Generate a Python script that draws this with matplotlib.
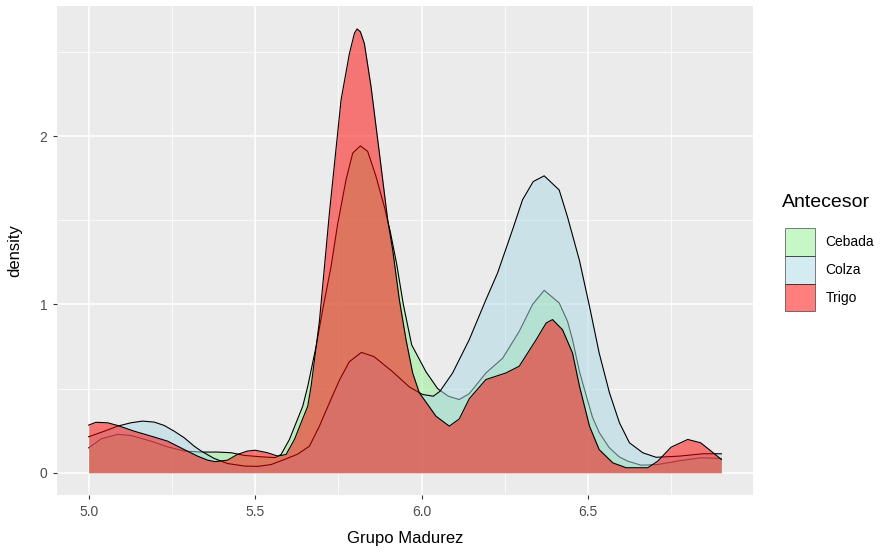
import matplotlib
matplotlib.use("Agg")
import matplotlib.pyplot as plt
from matplotlib.patches import Patch

plt.rcParams['font.family'] = ['Liberation Sans', 'DejaVu Sans']

# density curves (x = Grupo Madurez, y = density)
cebada_x = [5.0, 5.038, 5.087, 5.127, 5.187, 5.237, 5.287, 5.338, 5.388, 5.428,
            5.468, 5.518, 5.56, 5.578, 5.603, 5.623, 5.643, 5.658, 5.683, 5.703,
            5.728, 5.748, 5.773, 5.793, 5.816, 5.838, 5.863, 5.888, 5.906, 5.925,
            5.945, 5.97, 6.013, 6.048, 6.08, 6.113, 6.143, 6.193, 6.243, 6.293,
            6.333, 6.368, 6.413, 6.438, 6.453, 6.474, 6.494, 6.513, 6.533, 6.563,
            6.593, 6.619, 6.659, 6.709, 6.779, 6.839, 6.9]
cebada_y = [0.148, 0.202, 0.228, 0.222, 0.188, 0.154, 0.129, 0.123, 0.123, 0.119,
            0.103, 0.095, 0.09, 0.109, 0.198, 0.297, 0.396, 0.514, 0.75, 0.97,
            1.226, 1.48, 1.741, 1.899, 1.942, 1.909, 1.76, 1.58, 1.43, 1.24,
            1.0, 0.76, 0.60, 0.50, 0.455, 0.435, 0.47, 0.593, 0.68, 0.84,
            1.0, 1.084, 1.009, 0.90, 0.791, 0.60, 0.46, 0.33, 0.24, 0.15,
            0.095, 0.069, 0.045, 0.049, 0.073, 0.089, 0.085]

colza_x = [5.0, 5.047, 5.087, 5.127, 5.162, 5.197, 5.227, 5.257, 5.287, 5.317,
           5.338, 5.377, 5.417, 5.468, 5.508, 5.548, 5.588, 5.627, 5.663, 5.693,
           5.723, 5.753, 5.783, 5.819, 5.857, 5.913, 5.963, 6.003, 6.035, 6.055,
           6.093, 6.143, 6.193, 6.228, 6.273, 6.303, 6.335, 6.368, 6.413, 6.438,
           6.474, 6.504, 6.533, 6.564, 6.594, 6.624, 6.664, 6.704, 6.774, 6.845, 6.9]
colza_y = [0.214, 0.247, 0.277, 0.297, 0.307, 0.301, 0.281, 0.247, 0.208, 0.158,
           0.129, 0.085, 0.055, 0.04, 0.038, 0.049, 0.079, 0.11, 0.158, 0.277,
           0.415, 0.55, 0.66, 0.715, 0.69, 0.60, 0.51, 0.465, 0.455, 0.484,
           0.593, 0.791, 1.028, 1.187, 1.444, 1.622, 1.73, 1.764, 1.68, 1.52,
           1.26, 0.989, 0.712, 0.475, 0.297, 0.178, 0.119, 0.092, 0.099, 0.113, 0.113]

trigo_x = [5.0, 5.022, 5.057, 5.087, 5.137, 5.187, 5.237, 5.287, 5.327, 5.357,
           5.38, 5.417, 5.447, 5.477, 5.5, 5.537, 5.568, 5.593, 5.618, 5.638,
           5.658, 5.668, 5.693, 5.723, 5.758, 5.783, 5.798, 5.806, 5.816, 5.828,
           5.848, 5.873, 5.898, 5.913, 5.933, 5.953, 5.973, 5.993, 6.013, 6.043,
           6.083, 6.113, 6.143, 6.193, 6.253, 6.293, 6.344, 6.374, 6.393, 6.423,
           6.453, 6.474, 6.504, 6.533, 6.574, 6.614, 6.679, 6.709, 6.749, 6.799,
           6.838, 6.869, 6.9]
trigo_y = [0.283, 0.30, 0.297, 0.281, 0.247, 0.218, 0.188, 0.138, 0.099, 0.075,
           0.066, 0.075, 0.109, 0.129, 0.134, 0.119, 0.099, 0.109, 0.198, 0.297,
           0.396, 0.514, 0.90, 1.543, 2.215, 2.49, 2.61, 2.637, 2.62, 2.55,
           2.294, 1.90, 1.503, 1.325, 1.028, 0.791, 0.593, 0.475, 0.42, 0.336,
           0.277, 0.32, 0.44, 0.554, 0.593, 0.633, 0.791, 0.89, 0.91, 0.85,
           0.712, 0.514, 0.277, 0.138, 0.059, 0.03, 0.03, 0.069, 0.152, 0.198,
           0.178, 0.129, 0.079]

groups = ["Cebada", "Colza", "Trigo"]
fills = ["lightgreen", "lightblue", "red"]
series = [(cebada_x, cebada_y), (colza_x, colza_y), (trigo_x, trigo_y)]

fig = plt.figure(figsize=(8.88, 5.52), dpi=100)
ax = fig.add_axes([57/888, 1 - 495/552, (753 - 57)/888, (495 - 6)/552])
ax.set_facecolor("#EBEBEB")
for s in ax.spines.values():
    s.set_visible(False)

ax.set_xlim(4.905, 6.995)
ax.set_ylim(-0.132, 2.773)
ax.set_xticks([5.0, 5.5, 6.0, 6.5])
ax.set_xticklabels(["5.0", "5.5", "6.0", "6.5"])
ax.set_yticks([0, 1, 2])
ax.set_xticks([5.25, 5.75, 6.25, 6.75], minor=True)
ax.set_yticks([0.5, 1.5, 2.5], minor=True)
ax.grid(which="major", color="white", lw=1.1)
ax.grid(which="minor", color="white", lw=0.55)
ax.set_axisbelow(True)
ax.tick_params(which="major", length=3, width=0.8, color="#333333",
               labelcolor="#4D4D4D", labelsize=10, pad=4)
ax.tick_params(which="minor", length=0)

for i, ((xs, ys), c) in enumerate(zip(series, fills)):
    ax.fill_between(xs, 0, ys, color=c, alpha=0.5, lw=0, zorder=2 + 2 * i)
    ax.plot(xs, ys, color="black", lw=0.8, zorder=3 + 2 * i)

ax.set_xlabel("Grupo Madurez", fontsize=12, color="black", labelpad=9)
ax.set_ylabel("density", fontsize=12, color="black", labelpad=12)

# legend: title drawn separately so the gap above the keys matches ggplot
handles = [Patch(facecolor=c, edgecolor="black", lw=0.7, alpha=0.5) for c in fills]
for h in handles:
    h.set_edgecolor((0, 0, 0, 1))
leg = fig.legend(handles, groups, loc="upper left",
                 bbox_to_anchor=(785/888, 1 - 228/552), frameon=False,
                 fontsize=10, handlelength=2.16,
                 handleheight=2.7, labelspacing=0.0, handletextpad=0.75,
                 borderaxespad=0, borderpad=0)
fig.text(782/888, 1 - 202/552, "Antecesor", fontsize=14, va="center", ha="left")

fig.savefig("out.png", dpi=100)
